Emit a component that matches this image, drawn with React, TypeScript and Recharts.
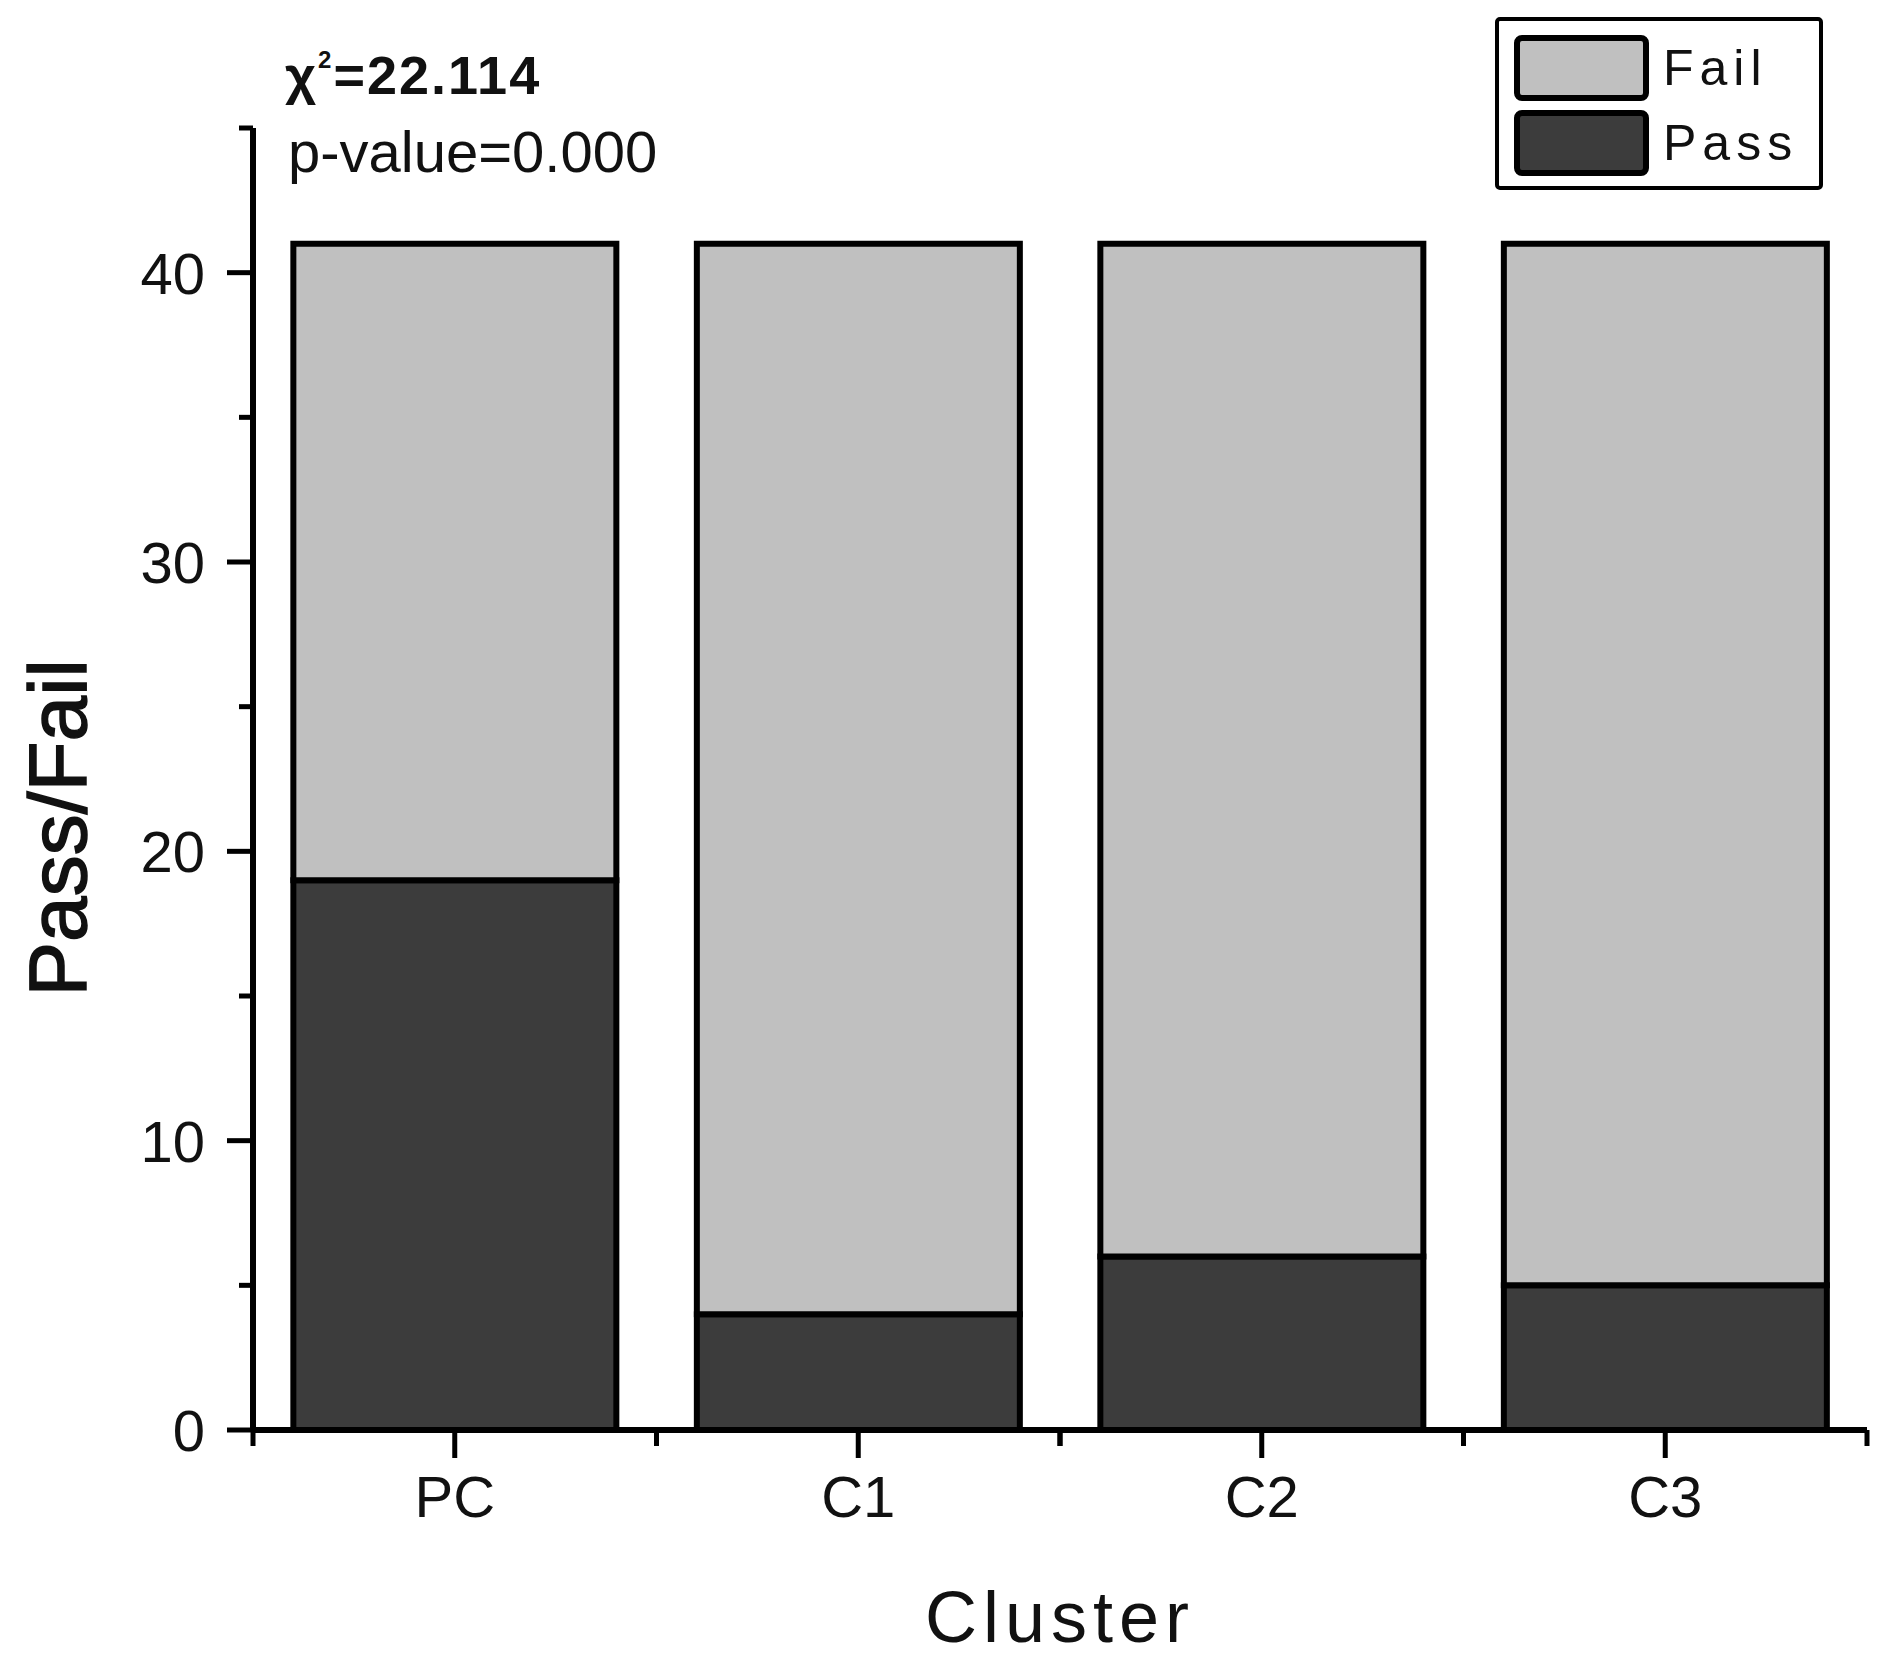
import React from "react";
import {
  BarChart,
  Bar,
  XAxis,
  YAxis,
  Legend,
  Customized,
} from "recharts";

const CATEGORIES = ["PC", "C1", "C2", "C3"];
const PASS = [19, 4, 6, 5];
const FAIL = [22, 37, 35, 36];
const Y_TICKS = [0, 5, 10, 15, 20, 25, 30, 35, 40, 45];
const CHI_SQUARE = "22.114";
const P_VALUE = "0.000";

const COLORS = {
  pass: "#3c3c3c",
  fail: "#c0c0c0",
  line: "#000000",
  text: "#111111",
};
const FONT = '"Liberation Sans", Arial, sans-serif';
const STROKE = 6;

const WIDTH = 1875;
const HEIGHT = 1657;
const MARGIN = { top: 120, right: 16, bottom: 0, left: 0 };
const Y_AXIS_W = 245;
const X_AXIS_H = 235;
const PLOT_W = WIDTH - MARGIN.left - MARGIN.right - Y_AXIS_W;
const PLOT_H = HEIGHT - MARGIN.top - MARGIN.bottom - X_AXIS_H;
const BAND = PLOT_W / CATEGORIES.length;

const data = CATEGORIES.map((c, i) => ({ cluster: c, pass: PASS[i], fail: FAIL[i] }));

const LEGEND_ITEMS = [
  { name: "Fail", color: COLORS.fail },
  { name: "Pass", color: COLORS.pass },
];

// y ticks: long ones with labels every 10, short ones in between
const YTick = (props: any) => {
  const { x, y, payload } = props;
  const major = payload.value % 10 === 0;
  return (
    <g>
      <line x1={x - (major ? 26 : 14)} x2={x} y1={y} y2={y} stroke={COLORS.line} strokeWidth={5} />
      {major && (
        <text x={x - 48} y={y} dy="0.36em" textAnchor="end" fontSize={58} fontFamily={FONT} fill={COLORS.text}>
          {payload.value}
        </text>
      )}
    </g>
  );
};

// x ticks: long at the category, short at the band edges
const XTick = (props: any) => {
  const { x, y, payload } = props;
  const half = BAND / 2;
  return (
    <g>
      <line x1={x} x2={x} y1={y} y2={y + 28} stroke={COLORS.line} strokeWidth={5} />
      <line x1={x - half} x2={x - half} y1={y} y2={y + 16} stroke={COLORS.line} strokeWidth={5} />
      <line x1={x + half} x2={x + half} y1={y} y2={y + 16} stroke={COLORS.line} strokeWidth={5} />
      <text x={x} y={y + 87} textAnchor="middle" fontSize={58} fontFamily={FONT} fill={COLORS.text}>
        {payload.value}
      </text>
    </g>
  );
};

const LegendBox = () => (
  <svg width={328} height={173} style={{ display: "block" }}>
    <rect x={2} y={2} width={324} height={169} rx={3} fill="#fff" stroke={COLORS.line} strokeWidth={4} />
    {LEGEND_ITEMS.map((item, i) => (
      <g key={item.name}>
        <rect x={22} y={21 + i * 75} width={129} height={60} rx={5} fill={item.color} stroke={COLORS.line} strokeWidth={STROKE} />
        <text x={168} y={68 + i * 75} fontSize={50} letterSpacing={6} fontFamily={FONT} fill={COLORS.text}>
          {item.name}
        </text>
      </g>
    ))}
  </svg>
);

const Annotations = () => {
  const yCx = 48;
  const yCy = MARGIN.top + PLOT_H / 2 + 49;
  const xCx = Y_AXIS_W + PLOT_W / 2;
  return (
    <g fontFamily={FONT} fill={COLORS.text}>
      <text x={277} y={86} fontSize={54} fontWeight="bold" letterSpacing={2}>
        χ<tspan dy={-26} fontSize={24}>2</tspan>
        <tspan dy={26}>={CHI_SQUARE}</tspan>
      </text>
      <text x={280} y={164} fontSize={58}>
        p-value={P_VALUE}
      </text>
      <text
        x={yCx}
        y={yCy}
        dy="0.36em"
        textAnchor="middle"
        fontSize={82}
        stroke={COLORS.text}
        strokeWidth={1.5}
        transform={`rotate(-90 ${yCx} ${yCy})`}
      >
        Pass/Fail
      </text>
      <text x={xCx} y={1634} textAnchor="middle" fontSize={72} letterSpacing={6}>
        Cluster
      </text>
    </g>
  );
};

export default function App() {
  return (
    <BarChart width={WIDTH} height={HEIGHT} data={data} margin={MARGIN} barCategoryGap="10%">
      <XAxis
        dataKey="cluster"
        height={X_AXIS_H}
        axisLine={{ stroke: COLORS.line, strokeWidth: STROKE }}
        tickLine={false}
        tickSize={0}
        tickMargin={0}
        interval={0}
        tick={<XTick />}
      />
      <YAxis
        width={Y_AXIS_W}
        domain={[0, 45]}
        ticks={Y_TICKS}
        interval={0}
        axisLine={{ stroke: COLORS.line, strokeWidth: STROKE }}
        tickLine={false}
        tickSize={0}
        tickMargin={0}
        tick={<YTick />}
      />
      <Bar dataKey="pass" name="Pass" stackId="a" fill={COLORS.pass} stroke={COLORS.line} strokeWidth={STROKE} isAnimationActive={false} />
      <Bar dataKey="fail" name="Fail" stackId="a" fill={COLORS.fail} stroke={COLORS.line} strokeWidth={STROKE} isAnimationActive={false} />
      <Legend
        layout="horizontal"
        verticalAlign="middle"
        align="center"
        content={<LegendBox />}
        wrapperStyle={{ position: "absolute", left: 1487, top: 9, width: 328, height: 173 }}
      />
      <Customized component={Annotations} />
    </BarChart>
  );
}
